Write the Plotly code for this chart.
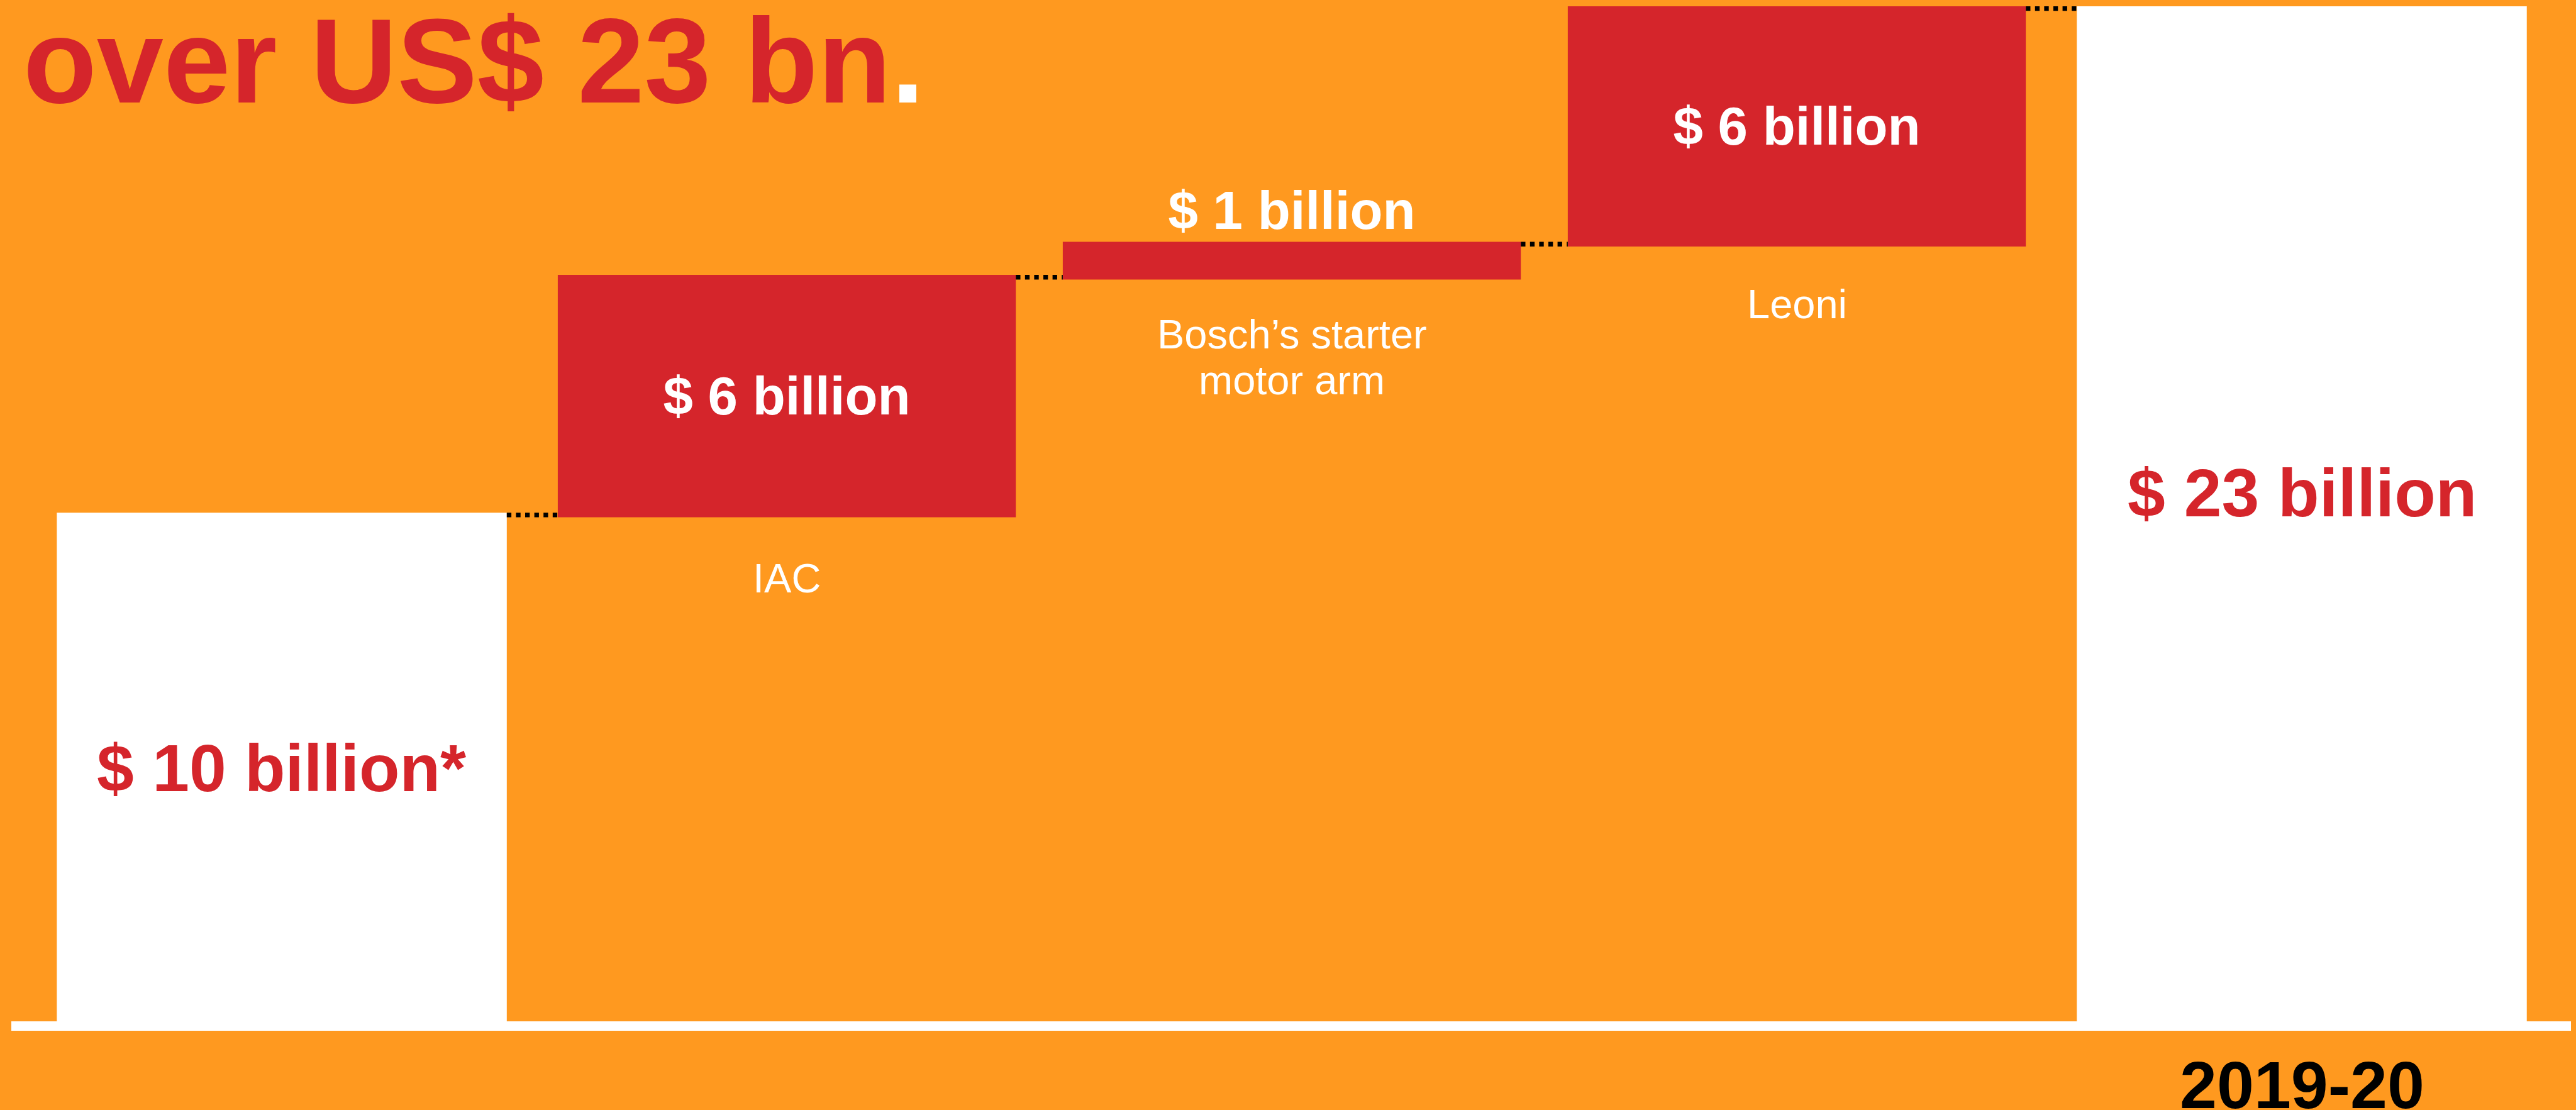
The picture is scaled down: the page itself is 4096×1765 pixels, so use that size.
import plotly.graph_objects as go

# ---- data ----
categories = ["Base", "IAC", "Bosch", "Leoni", "2019-20"]
x_pos = [0, 1, 2, 3, 4]
measures = ["absolute", "relative", "relative", "relative", "total"]
values = [11.5, 5.4, 0.75, 5.35, 0]
value_labels = ["$ 10 billion*", "$ 6 billion", "$ 1 billion", "$ 6 billion", "$ 23 billion"]
category_labels = ["", "IAC", "Bosch’s starter<br>motor arm", "Leoni", ""]
period_label = "2019-20"

# ---- style ----
S = 0.911
ORANGE = "#FF991F"
RED = "#D5252B"
WHITE = "#FFFFFF"
FONT_B = "Liberation Sans"
W, H = 4096, 1765

bar_widths = [0.891, 0.907, 0.907, 0.907, 0.891]
text_pos = ["inside", "inside", "outside", "inside", "none"]
text_colors = [RED, WHITE, WHITE, WHITE, RED]
text_sizes = [116 * S, 93.6 * S, 93.6 * S, 93.6 * S, 118 * S]
label_shift = [0, -62, -52, -57, 0]
LINE_GAP = 73

ml, mr, mt, mb = 18.2, 8.3, 0, 140.7
y_max = 23.195

fig = go.Figure()
fig.add_trace(go.Waterfall(
    x=x_pos,
    y=values,
    measure=measures,
    width=bar_widths,
    text=[t if p != "none" else "" for t, p in zip(value_labels, text_pos)],
    texttemplate="<b>%{text}</b>",
    textposition=text_pos,
    insidetextanchor="middle",
    textfont=dict(family=FONT_B, size=text_sizes, color=text_colors),
    outsidetextfont=dict(family=FONT_B, size=93.6 * S, color=WHITE),
    constraintext="none",
    increasing=dict(marker=dict(color=RED, line=dict(width=0))),
    decreasing=dict(marker=dict(color=RED, line=dict(width=0))),
    totals=dict(marker=dict(color=WHITE, line=dict(width=0))),
    connector=dict(mode="between", line=dict(color="black", width=7.3, dash="dot")),
    hoverinfo="skip",
    cliponaxis=False,
))

# cumulative bottoms for category labels
bottoms = []
run = 0
for m, v in zip(measures, values):
    if m == "absolute":
        bottoms.append(0)
        run = v
    elif m == "relative":
        bottoms.append(run)
        run += v
    else:
        bottoms.append(0)
total_value = run

annotations = []
for xp, lab, b, sh in zip(x_pos, category_labels, bottoms, label_shift):
    if lab:
        for i, line in enumerate(lab.split("<br>")):
            annotations.append(dict(
                x=xp, y=b, xref="x", yref="y", text=line, showarrow=False,
                xanchor="center", yanchor="top", yshift=sh - i * LINE_GAP,
                font=dict(family=FONT_B, size=65, color=WHITE),
            ))

# total label (sits above the bar's centre in the reference)
annotations.append(dict(
    x=x_pos[-1], y=total_value * 12.0 / 23.0, xref="x", yref="y",
    text="<b>" + value_labels[-1] + "</b>", showarrow=False,
    xanchor="center", yanchor="middle",
    font=dict(family=FONT_B, size=118 * S, color=RED),
))

# period label under the axis
annotations.append(dict(
    x=x_pos[-1], y=0, xref="x", yref="paper", text="<b>" + period_label + "</b>",
    showarrow=False, xanchor="center", yanchor="top", yshift=-40,
    font=dict(family=FONT_B, size=106, color="black"),
))

# headline
annotations.append(dict(
    x=0.0042, y=1, xref="paper", yref="paper",
    text="<b>over US$ 23 bn<span style='color:#FFFFFF'>.</span></b>",
    showarrow=False, xanchor="left", yanchor="top", yshift=12,
    font=dict(family=FONT_B, size=191, color=RED),
))

fig.update_layout(
    width=W, height=H,
    margin=dict(l=ml, r=mr, t=mt, b=mb, autoexpand=False),
    paper_bgcolor=ORANGE, plot_bgcolor=ORANGE,
    showlegend=False,
    font=dict(family=FONT_B),
    annotations=annotations,
    xaxis=dict(range=[-0.5356, 4.533], showgrid=False, zeroline=False,
               showticklabels=False, ticks="", showline=True,
               linecolor=WHITE, linewidth=14.6, fixedrange=True),
    yaxis=dict(range=[0, y_max], showgrid=False, zeroline=False,
               showticklabels=False, ticks="", showline=False, fixedrange=True),
)

fig.write_html("out.html")
